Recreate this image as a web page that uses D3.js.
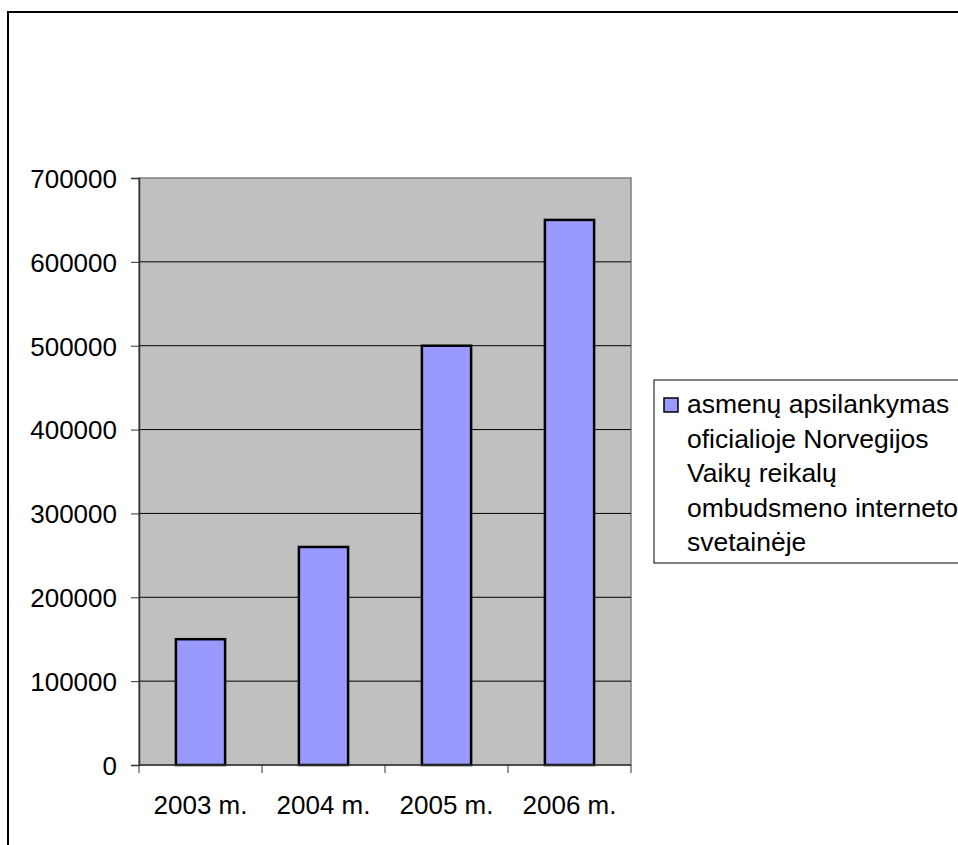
<!DOCTYPE html>
<html>
<head>
<meta charset="utf-8">
<script src="https://cdn.jsdelivr.net/npm/d3@7"></script>
<style>
html,body{margin:0;padding:0;background:#fff;overflow:hidden;}
svg{display:block;font-family:"Liberation Sans",Arial,sans-serif;}
</style>
</head>
<body>
<svg id="chart" width="958" height="845"></svg>
<script>
const categories = ["2003 m.", "2004 m.", "2005 m.", "2006 m."];
const values = [150000, 260000, 500000, 650000];
const yTicks = [0, 100000, 200000, 300000, 400000, 500000, 600000, 700000];
const legendLines = ["asmenų apsilankymas", "oficialioje Norvegijos", "Vaikų reikalų", "ombudsmeno interneto", "svetainėje"];

const svg = d3.select("#chart");
const plot = {left: 139, right: 631, top: 178, bottom: 765};

// outer chart border
svg.append("rect").attr("x", 8).attr("y", 12).attr("width", 1000).attr("height", 900)
  .attr("fill", "#fff").attr("stroke", "#000").attr("stroke-width", 2);

const x = d3.scaleBand().domain(categories).range([plot.left, plot.right]).padding(0);
const y = d3.scaleLinear().domain([0, 700000]).range([plot.bottom, plot.top]);

// plot background
svg.append("rect").attr("x", plot.left).attr("y", plot.top)
  .attr("width", plot.right - plot.left).attr("height", plot.bottom - plot.top)
  .attr("fill", "#C0C0C0").attr("stroke", "#808080").attr("stroke-width", 1.5);

// gridlines
svg.append("g").selectAll("line").data(yTicks.filter(d => d > 0 && d < 700000)).join("line")
  .attr("x1", plot.left).attr("x2", plot.right)
  .attr("y1", d => y(d)).attr("y2", d => y(d))
  .attr("stroke", "#000").attr("stroke-width", 1);

// bars
const bw = x.bandwidth() * 0.4;
svg.append("g").selectAll("rect").data(values).join("rect")
  .attr("x", (d, i) => x(categories[i]) + (x.bandwidth() - bw) / 2)
  .attr("y", d => y(d))
  .attr("width", bw)
  .attr("height", d => y(0) - y(d))
  .attr("fill", "#9999FF").attr("stroke", "#000").attr("stroke-width", 2.5);

// y axis
const yAxis = d3.axisLeft(y).tickValues(yTicks).tickSize(8).tickPadding(14).tickFormat(d3.format("d"));
const gy = svg.append("g").attr("transform", `translate(${plot.left},0)`).call(yAxis);
gy.select(".domain").attr("stroke", "#333").attr("stroke-width", 1.5);
gy.selectAll(".tick line").attr("stroke", "#333").attr("stroke-width", 1);
gy.selectAll(".tick text").attr("font-size", 26).attr("font-family", "Liberation Sans, Arial, sans-serif")
  .attr("fill", "#000").attr("dy", "0.36em");

// x axis
const xAxis = d3.axisBottom(x).tickSize(0).tickPadding(0);
const gx = svg.append("g").attr("transform", `translate(0,${plot.bottom})`).call(xAxis);
gx.select(".domain").remove();
gx.append("line").attr("x1", plot.left).attr("x2", plot.right).attr("y1", 0).attr("y2", 0)
  .attr("stroke", "#333").attr("stroke-width", 1.5);
const bounds = categories.map(c => x(c)).concat([plot.right]);
gx.selectAll(".bound").data(bounds).join("line").attr("class", "bound")
  .attr("x1", d => d).attr("x2", d => d).attr("y1", 0).attr("y2", 8)
  .attr("stroke", "#333").attr("stroke-width", 1);
gx.selectAll(".tick text").attr("font-size", 26).attr("font-family", "Liberation Sans, Arial, sans-serif")
  .attr("fill", "#000").attr("y", 49).attr("dy", 0);

// legend
const lg = svg.append("g");
lg.append("rect").attr("x", 654).attr("y", 380).attr("width", 400).attr("height", 183)
  .attr("fill", "#fff").attr("stroke", "#000").attr("stroke-width", 1);
lg.append("rect").attr("x", 664).attr("y", 398).attr("width", 14).attr("height", 14)
  .attr("fill", "#9999FF").attr("stroke", "#000").attr("stroke-width", 1.5);
lg.selectAll("text").data(legendLines).join("text")
  .attr("x", 687).attr("y", (d, i) => 413 + i * 34.5)
  .attr("font-size", 26.5).attr("fill", "#000").text(d => d);
</script>
</body>
</html>
